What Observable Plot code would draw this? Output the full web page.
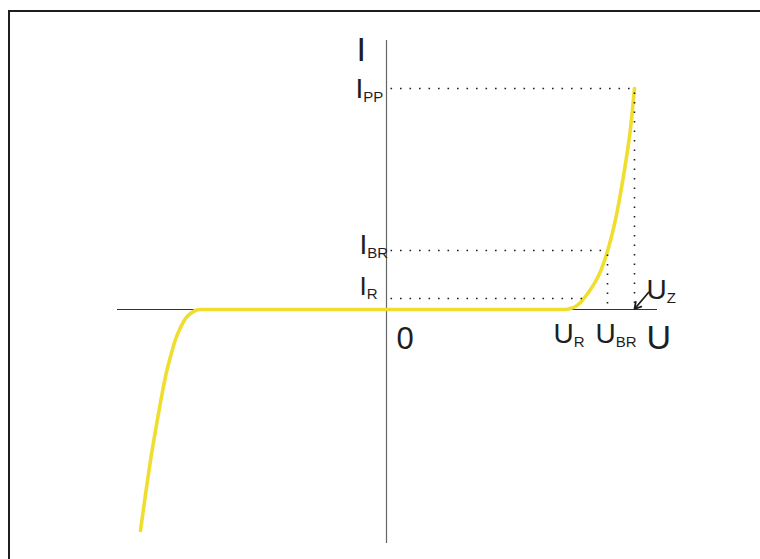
<!DOCTYPE html>
<html>
<head>
<meta charset="utf-8">
<script src="https://cdn.jsdelivr.net/npm/d3@7"></script>
<script src="https://cdn.jsdelivr.net/npm/@observablehq/plot@0.6"></script>
<style>
  html, body { margin: 0; padding: 0; background: #fff; overflow: hidden; }
  #wrap { position: relative; width: 760px; height: 559px; overflow: hidden; }
  #frame { position: absolute; left: 8px; top: 10px; width: 900px; height: 700px;
           border-top: 2px solid #1e1e1e; border-left: 2px solid #1e1e1e; pointer-events: none; }
  #wrap svg { position: absolute; left: 0; top: 0; }
</style>
</head>
<body>
<div id="wrap"><div id="frame"></div></div>
<script>
// Characteristic points of the TVS diode I–U curve (schematic units)
const U_R = 1.79, U_BR = 2.21, U_Z = 2.48;
const I_R = 0.11, I_BR = 0.59, I_PP = 2.21;
const U_AT_IR = 1.97;               // voltage where the curve reaches I_R

// Extent of the drawn axes
const uAxis = [-2.69, 2.71];
const iAxis = [-2.34, 2.69];

// Sampled curve: reverse branch, flat region, breakdown branch
const curveU = [-2.46, -2.41, -2.36, -2.31, -2.26, -2.21, -2.16, -2.11, -2.06, -2.01, -1.96, -1.91, -1.86,
                 1.79, 1.84, 1.89, 1.94, 1.99, 2.04, 2.09, 2.14, 2.19, 2.24, 2.29, 2.34, 2.39, 2.44, 2.48];
const curveI = [-2.21, -1.85, -1.51, -1.21, -0.93, -0.67, -0.47, -0.30, -0.18, -0.09, -0.04, -0.01, 0,
                 0, 0.01, 0.03, 0.07, 0.13, 0.20, 0.28, 0.38, 0.52, 0.69, 0.90, 1.16, 1.46, 1.81, 2.21];

// Labels ("_" marks the start of a subscript)
const axisNames = ["U", "I"];
const originLabel = "0";
const currentLabels = ["I_PP", "I_BR", "I_R"];
const voltageLabels = ["U_R", "U_BR"];
const clampLabel = "U_Z";

const curve = curveU.map((u, k) => ({u, i: curveI[k]}));

const guides = [
  {u1: 0, i1: I_PP, u2: U_Z, i2: I_PP},
  {u1: U_Z, i1: I_PP, u2: U_Z, i2: 0},
  {u1: 0, i1: I_BR, u2: U_BR, i2: I_BR},
  {u1: U_BR, i1: I_BR, u2: U_BR, i2: 0},
  {u1: 0, i1: I_R, u2: U_AT_IR, i2: I_R}
];

const font = "'Liberation Sans', Arial, Helvetica, sans-serif";
const ink = "#1e1e1e";

const plot = Plot.plot({
  width: 760,
  height: 559,
  margin: 0,
  style: {fontFamily: font, background: "transparent", color: ink},
  x: {domain: [-3.86, 3.74], axis: null},
  y: {domain: [-2.50, 3.09], axis: null},
  marks: [
    // axes
    Plot.ruleY([0], {x1: () => uAxis[0], x2: () => uAxis[1], stroke: "#333", strokeWidth: 1.2}),
    Plot.ruleX([0], {y1: () => iAxis[0], y2: () => iAxis[1], stroke: "#666", strokeWidth: 1.2}),
    // characteristic curve
    Plot.line(curve, {x: "u", y: "i", curve: "monotone-x", stroke: "#f0de2e", strokeWidth: 3.6}),
    // dotted guide lines
    Plot.link(guides, {x1: "u1", y1: "i1", x2: "u2", y2: "i2", stroke: ink,
                       strokeWidth: 1.6, strokeDasharray: "1.6,7.9", strokeDashoffset: -4}),
    // clamping voltage arrow
    Plot.arrow([U_Z], {x1: (d) => d + 0.14, y1: () => 0.17, x2: (d) => d, y2: () => 0.005,
                       stroke: ink, strokeWidth: 1.8, headLength: 8}),
    // axis names
    Plot.text([axisNames[1]], {x: () => 0, y: () => iAxis[1], text: (d) => d, textAnchor: "start",
                               lineAnchor: "bottom", dx: -30, dy: 20, fontSize: 34, fill: ink}),
    Plot.text([axisNames[0]], {x: () => uAxis[1], y: () => 0, text: (d) => d, textAnchor: "start",
                               lineAnchor: "bottom", dx: -11, dy: 39, fontSize: 34, fill: ink}),
    Plot.text([originLabel], {x: () => 0, y: () => 0, text: (d) => d, textAnchor: "start",
                              lineAnchor: "bottom", dx: 10, dy: 39, fontSize: 31, fill: ink}),
    // current levels
    Plot.text([currentLabels[0]], {x: () => 0, y: () => I_PP, text: (d) => d, textAnchor: "start",
                                   lineAnchor: "bottom", dx: -31, dy: 9, fontSize: 28, fill: ink}),
    Plot.text([currentLabels[1]], {x: () => 0, y: () => I_BR, text: (d) => d, textAnchor: "start",
                                   lineAnchor: "bottom", dx: -27, dy: 3, fontSize: 28, fill: ink}),
    Plot.text([currentLabels[2]], {x: () => 0, y: () => I_R, text: (d) => d, textAnchor: "start",
                                   lineAnchor: "bottom", dx: -27, dy: -4, fontSize: 26, fill: ink}),
    // voltage levels
    Plot.text(voltageLabels, {x: (d, k) => [U_R, U_BR][k], y: () => 0, text: (d) => d, textAnchor: "start",
                              lineAnchor: "bottom", dx: -12, dy: 33, fontSize: 28, fill: ink}),
    Plot.text([clampLabel], {x: () => U_Z, y: () => 0, text: (d) => d, textAnchor: "start",
                             lineAnchor: "bottom", dx: 12, dy: -11, fontSize: 28, fill: ink})
  ]
});

// Render "X_sub" labels with a lowered, smaller subscript
d3.select(plot).selectAll("text").each(function () {
  const t = this.textContent;
  if (!t.includes("_")) return;
  const [main, sub] = t.split("_");
  const size = parseFloat(this.getAttribute("font-size") || getComputedStyle(this).fontSize) || 28;
  this.textContent = main;
  d3.select(this).append("tspan")
    .attr("font-size", Math.round(size * 0.55))
    .attr("dy", Math.round(size * 0.13))
    .text(sub);
});

document.getElementById("wrap").appendChild(plot);
</script>
</body>
</html>
